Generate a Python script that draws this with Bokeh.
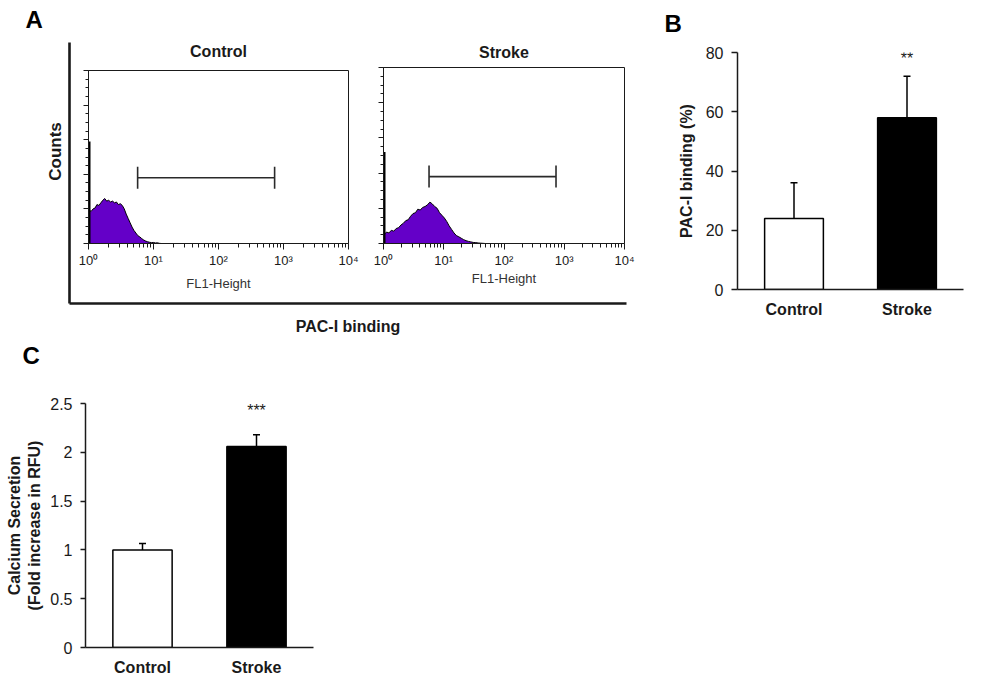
import numpy as np
from bokeh.plotting import figure
from bokeh.models import (FixedTicker, Range1d, FactorRange, Label,
                          Whisker, TeeHead, ColumnDataSource)
from bokeh.core.properties import value
from bokeh.embed import file_html
from bokeh.resources import INLINE

W, H = 1000, 681
FONT = "Liberation Sans"
INK = "#1a1a1a"
PURPLE = "#6400c8"
STACK = {"position": "absolute", "left": "0px", "top": "0px"}

# ---------------- Panel A data: FL1-Height histograms (x = log10 FL1-Height) -------------
ctrl_log_fl1 = [0.00, 0.01, 0.04, 0.07, 0.10, 0.13, 0.16, 0.19, 0.22, 0.25, 0.28, 0.31,
                0.34, 0.37, 0.40, 0.43, 0.46, 0.49, 0.52, 0.55, 0.58, 0.61, 0.64, 0.67,
                0.70, 0.73, 0.76, 0.79, 0.82, 0.85, 0.88, 0.91, 0.94, 0.97, 1.00, 1.03,
                1.06, 1.09, 1.12]
ctrl_counts = [59.0, 19.5, 18.5, 20.0, 20.5, 22.5, 22.0, 23.5, 25.0, 26.0, 24.5, 25.0,
               24.0, 24.5, 23.5, 24.0, 22.5, 23.0, 22.0, 20.0, 17.0, 14.5, 12.0, 9.5,
               7.5, 6.0, 4.5, 3.8, 2.8, 2.0, 1.4, 1.0, 0.7, 0.5, 0.6, 0.3,
               0.4, 0.1, 0.0]
strk_log_fl1 = [0.00, 0.01, 0.05, 0.09, 0.13, 0.17, 0.21, 0.25, 0.29, 0.33, 0.37, 0.41,
                0.45, 0.49, 0.53, 0.57, 0.61, 0.65, 0.69, 0.73, 0.77, 0.81, 0.85, 0.89,
                0.93, 0.97, 1.01, 1.05, 1.09, 1.13, 1.17, 1.21, 1.25, 1.29, 1.33, 1.37,
                1.41, 1.45, 1.49, 1.53, 1.57, 1.61, 1.65, 1.69]
strk_counts = [52.0, 5.0, 6.5, 6.0, 7.5, 7.0, 8.5, 9.0, 10.5, 11.5, 13.0, 13.5,
               15.5, 17.0, 17.5, 19.5, 19.0, 20.5, 21.0, 22.0, 23.5, 22.5, 21.0, 20.0,
               17.5, 16.0, 14.5, 12.5, 10.0, 8.0, 6.0, 4.5, 3.8, 3.0, 2.2, 1.6,
               1.2, 0.9, 0.6, 0.5, 0.3, 0.2, 0.1, 0.0]
gate_low = 5.7
gate_high = 730.0
gate_level = 38.0
decade_ticks = [0, 1, 2, 3, 4]
decade_labels = ["10\u2070", "10\u00b9", "10\u00b2", "10\u00b3", "10\u2074"]
count_ticks = [0, 20, 40, 60, 80, 100]

# ---------------- Panel B / C data ----------------
groups = ["Control", "Stroke"]
pac_binding = [24.0, 58.0]
pac_sem = [12.0, 14.0]
calcium = [1.0, 2.06]
calcium_sem = [0.065, 0.12]
pac_ticks = [0, 20, 40, 60, 80]
ca_ticks = [0, 0.5, 1, 1.5, 2, 2.5]
ca_tick_labels = ["0", "0.5", "1", "1.5", "2", "2.5"]


def framed(left, top, right, bottom, **kw):
    p = figure(width=W, height=H, output_backend="svg", toolbar_location=None,
               min_border_left=left, min_border_top=top,
               min_border_right=W - right, min_border_bottom=H - bottom,
               styles=STACK, **kw)
    p.background_fill_color = None
    p.border_fill_color = None
    p.outline_line_color = None
    p.grid.grid_line_color = None
    return p


# ---------------- page layer (white, panel letters) ----------------
page = figure(width=W, height=H, output_backend="svg", toolbar_location=None,
              x_axis_location=None, y_axis_location=None, title=None,
              min_border=0, x_range=Range1d(0, 1), y_range=Range1d(0, 1), styles=STACK)
page.outline_line_color = None
page.grid.grid_line_color = None
page.background_fill_color = "white"
page.border_fill_color = "white"
for txt, x, y in [("A", 25, 19), ("B", 664, 23), ("C", 22, 355)]:
    page.add_layout(Label(x=x, y=H - y, x_units="screen", y_units="screen", text=txt,
                          text_font=FONT, text_font_style="bold", text_font_size="24px",
                          text_baseline="middle", text_color="black"))
page.add_layout(Label(x=55, y=H - 151, x_units="screen", y_units="screen", text="Counts",
                      angle=np.pi / 2, text_align="center", text_baseline="middle",
                      text_font=FONT, text_font_style="bold", text_font_size="17px",
                      text_color=INK))

# ---------------- bracket of panel A ----------------
br = framed(69, 42, 626, 303, x_range=Range1d(0, 1), y_range=Range1d(0, 1), title=None)
for ax in (br.xaxis, br.yaxis):
    ax.ticker = FixedTicker(ticks=[])
    ax.major_tick_line_color = None
    ax.minor_tick_line_color = None
    ax.axis_line_width = 2.6
    ax.axis_line_color = INK
br.xaxis.axis_label = "PAC-I binding"
br.xaxis.axis_label_text_font = FONT
br.xaxis.axis_label_text_font_style = "bold"
br.xaxis.axis_label_text_font_size = "16px"
br.xaxis.axis_label_text_color = INK
br.xaxis.axis_label_standoff = 14


def hist_fig(left, top, right, bottom, title, xs, ys, title_standoff, label_standoff):
    p = framed(left, top, right, bottom, x_range=Range1d(0, 4), y_range=Range1d(0, 100))
    p.outline_line_color = INK
    p.outline_line_width = 1
    p.title.text = title
    p.title.align = "center"
    p.title.text_font = FONT
    p.title.text_font_size = "16px"
    p.title.text_font_style = "bold"
    p.title.text_color = INK
    p.title.standoff = title_standoff
    p.varea(x=xs, y1=0, y2=ys, fill_color=PURPLE)
    p.line(x=xs, y=ys, line_color="black", line_width=1)
    # pile-up in the first channel
    p.segment(x0=xs[:1], y0=[0], x1=xs[:1], y1=ys[:1], line_color="black", line_width=4)
    gate = ColumnDataSource(dict(base=[gate_level], lower=[np.log10(gate_low)],
                                 upper=[np.log10(gate_high)]))
    p.add_layout(Whisker(source=gate, base="base", lower="lower", upper="upper",
                         dimension="width", line_color="#2a2a2a", line_width=1.6,
                         lower_head=TeeHead(size=22, line_width=1.6, line_color="#2a2a2a"),
                         upper_head=TeeHead(size=22, line_width=1.6, line_color="#2a2a2a"),
                         level="overlay"))
    minors = [float(np.log10(k * 10.0 ** d)) for d in decade_ticks[:-1] for k in range(2, 10)]
    p.xaxis.ticker = FixedTicker(ticks=decade_ticks, minor_ticks=minors)
    p.xaxis.major_label_overrides = {t: s for t, s in zip(decade_ticks, decade_labels)}
    p.xaxis.major_label_text_font = FONT
    p.xaxis.major_label_text_font_size = "13px"
    p.xaxis.major_label_text_color = INK
    p.xaxis.major_label_standoff = 3
    p.xaxis.major_tick_out = 6
    p.xaxis.major_tick_in = 0
    p.xaxis.minor_tick_out = 4
    p.xaxis.minor_tick_in = 0
    p.xaxis.axis_label = "FL1-Height"
    p.xaxis.axis_label_text_font = FONT
    p.xaxis.axis_label_text_font_style = "normal"
    p.xaxis.axis_label_text_font_size = "13px"
    p.xaxis.axis_label_text_color = "#333333"
    p.xaxis.axis_label_standoff = label_standoff
    p.yaxis.ticker = FixedTicker(ticks=count_ticks, minor_ticks=list(range(0, 101, 5)))
    p.yaxis.major_label_overrides = {t: "" for t in count_ticks}
    p.yaxis.major_tick_out = 5
    p.yaxis.major_tick_in = 0
    p.yaxis.minor_tick_out = 3
    p.yaxis.minor_tick_in = 0
    for ax in (p.xaxis, p.yaxis):
        ax.axis_line_color = INK
        ax.major_tick_line_color = INK
        ax.minor_tick_line_color = INK
    return p


pc = hist_fig(88, 70, 348, 243, "Control", ctrl_log_fl1, ctrl_counts, 21, 5)
ps = hist_fig(383, 67, 624, 243, "Stroke", strk_log_fl1, strk_counts, 14, 0)


def bar_fig(left, top, right, bottom, vals, errs, ymax, ticks, ylabel, stars, star_off):
    p = framed(left, top, right, bottom, title=None,
               x_range=FactorRange(factors=groups, range_padding=0),
               y_range=Range1d(0, ymax))
    p.vbar(x=groups, top=vals, width=0.52, fill_color=["white", "black"],
           line_color="black", line_width=1.5)
    upper = [v + e for v, e in zip(vals, errs)]
    src = ColumnDataSource(dict(x=groups, lower=vals, upper=upper))
    p.add_layout(Whisker(source=src, base="x", lower="lower", upper="upper",
                         dimension="height", line_color="black", line_width=1.5,
                         upper_head=TeeHead(size=7, line_width=1.5, line_color="black"),
                         lower_head=None))
    p.text(x=[groups[1]], y=[upper[1]], text=[stars], text_align="center",
           text_baseline="alphabetic", y_offset=star_off, text_font=value(FONT),
           text_font_size="16px", text_color=INK)
    p.yaxis.ticker = FixedTicker(ticks=ticks)
    p.yaxis.major_tick_out = 6
    p.yaxis.major_tick_in = 0
    p.yaxis.minor_tick_line_color = None
    p.yaxis.major_tick_line_width = 1.5
    p.yaxis.major_tick_line_color = INK
    p.yaxis.major_label_text_font = FONT
    p.yaxis.major_label_text_font_size = "16px"
    p.yaxis.major_label_text_color = INK
    p.yaxis.major_label_standoff = 8
    p.yaxis.axis_label = ylabel
    p.yaxis.axis_label_text_font = FONT
    p.yaxis.axis_label_text_font_style = "bold"
    p.yaxis.axis_label_text_font_size = "16px"
    p.yaxis.axis_label_text_color = INK
    p.xaxis.major_tick_line_color = None
    p.xaxis.minor_tick_line_color = None
    p.xaxis.major_label_text_font = FONT
    p.xaxis.major_label_text_font_style = "bold"
    p.xaxis.major_label_text_font_size = "16px"
    p.xaxis.major_label_text_color = INK
    p.xaxis.major_label_standoff = 5
    for ax in (p.xaxis, p.yaxis):
        ax.axis_line_width = 1.5
        ax.axis_line_color = INK
    return p


pb = bar_fig(737, 52, 963, 289, pac_binding, pac_sem, 80, pac_ticks,
             "PAC-I binding (%)", "**", -18)
pb.yaxis.axis_label_standoff = 8

pcal = bar_fig(85, 403, 313, 647, calcium, calcium_sem, 2.5, ca_ticks,
               "Calcium Secretion\n(Fold increase in RFU)", "***", -24)
pcal.yaxis.major_label_overrides = {t: s for t, s in zip(ca_ticks, ca_tick_labels)}
pcal.yaxis.major_tick_out = 5
pcal.yaxis.axis_label_standoff = 4

open("out.html", "w").write(file_html([page, br, pc, ps, pb, pcal], INLINE))
